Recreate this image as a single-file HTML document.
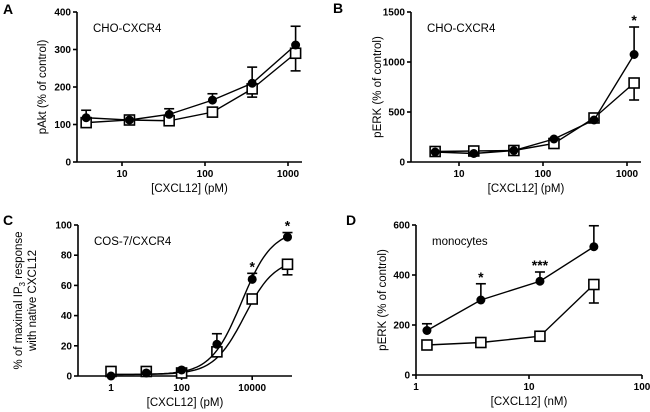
<!DOCTYPE html>
<html><head><meta charset="utf-8"><style>
body{margin:0;background:#fff}
svg{display:block;font-family:"Liberation Sans",Arial,sans-serif}
</style></head><body>
<svg id="fig" width="650" height="412" viewBox="0 0 650 412" xmlns="http://www.w3.org/2000/svg"></svg>
<script>
// Panel A
const aX=[3.7,12.3,37,123,370,1235];
const aFilled=[118,112,127,165,210,312];
const aFilledErr=[20,0,15,17,43,50];
const aOpen=[105,112,110,133,195,290];
const aOpenErr=[0,0,0,0,22,47];
// Panel B
const bX=[5.2,15,45,135,405,1215];
const bFilled=[100,85,115,230,420,1075];
const bFilledErr=[0,0,0,0,0,275];
const bOpen=[105,110,115,185,440,790];
const bOpenErr=[0,0,0,0,0,170];
// Panel C
const cX=[1,10,100,1000,10000,100000];
const cFilled=[0,2,4,21,64,92];
const cFilledErr=[0,0,0,7,4,3];
const cOpen=[3,3,2,16,51,74];
const cOpenErr=[0,0,0,0,0,7];
const cFitFilled=[1,97,5000,1]; // bottom, top, EC50, hill
const cFitOpen=[1,78,6000,1];
// Panel D
const dX=[1.25,3.75,12.5,37.5];
const dFilled=[178,300,375,513];
const dFilledErr=[27,65,37,84];
const dOpen=[120,130,155,362];
const dOpenErr=[0,0,0,74];

const svg=document.getElementById('fig');
const NS='http://www.w3.org/2000/svg';
function el(tag,attrs,parent){const e=document.createElementNS(NS,tag);for(const k in attrs)e.setAttribute(k,attrs[k]);(parent||svg).appendChild(e);return e;}

function panel(p){
  const g=el('g',{});
  
  
  const sx=v=>p.x0+(Math.log10(v)-p.lmin)*p.dec;
  const sy=v=>p.yb-(v/p.ymax)*(p.yb-p.yt);
  // axes
  const ya=el('line',{x1:p.x0,y1:p.yt,x2:p.x0,y2:p.yb,stroke:'#000','stroke-width':1.6},g);
  
  const xa=el('line',{x1:p.x0,y1:p.yb,x2:p.xe,y2:p.yb,stroke:'#000','stroke-width':1.6},g);
  
  p.yt_ticks.forEach(v=>{
    el('line',{x1:p.x0-4,y1:sy(v),x2:p.x0,y2:sy(v),stroke:'#000','stroke-width':1.6},g);
    const t=el('text',{x:p.x0-6,y:sy(v)+3.5,'text-anchor':'end','font-size':10,'font-weight':'bold'},g);
    t.textContent=v;
  });
  p.xt_ticks.forEach(v=>{
    const x=sx(v);
    el('line',{x1:x,y1:p.yb,x2:x,y2:p.yb+4,stroke:'#000','stroke-width':1.6},g);
    const t=el('text',{x:x,y:p.yb+15,'text-anchor':'middle','font-size':10,'font-weight':'bold'},g);
    t.textContent=v;
  });
  (p.minor||[]).forEach(v=>{el('line',{x1:sx(v),y1:p.yb,x2:sx(v),y2:p.yb+2,stroke:'#000','stroke-width':1},g);});
  const xt=el('text',{x:(p.x0+p.xe)/2,y:p.yb+30,'text-anchor':'middle','font-size':11.5},g);
  xt.textContent=p.xtitle;
  const cyy=(p.yt+p.yb)/2;
  p.ytitle.forEach((s,i)=>{
    const yx=p.ytx+i*14;
    const t=el('text',{x:yx,y:cyy,'text-anchor':'middle','font-size':11.5,transform:`rotate(-90 ${yx} ${cyy})`},g);
    t.innerHTML=s;
  });
  const lt=el('text',{x:p.lx,y:p.ly,'font-size':14,'font-weight':'bold'},g);
  lt.textContent=p.id;
  const an=el('text',{x:p.x0+16,y:p.yt+20,'font-size':11.5},g);
  an.textContent=p.label;
  // lines/curves
  function series(vals,errs,filled,fit){
    let d='';
    if(fit){
      const lo=Math.log10(p.xs[0]),hi=Math.log10(p.xs[p.xs.length-1]);
      for(let i=0;i<=80;i++){const lx=lo+(hi-lo)*i/80,x=Math.pow(10,lx);
        const v=fit[0]+(fit[1]-fit[0])/(1+Math.pow(fit[2]/x,fit[3]));
        d+=(i?'L':'M')+sx(x).toFixed(1)+','+sy(v).toFixed(1);}
    } else p.xs.forEach((x,i)=>{d+=(i?'L':'M')+sx(x)+','+sy(vals[i]);});
    const l=el('path',{d:d,fill:'none',stroke:'#000','stroke-width':1.4},g);
    
    
    p.xs.forEach((x,i)=>{
      const cx=sx(x),cy=sy(vals[i]);
      if(errs[i]>0){
        const ey=filled?sy(vals[i]+errs[i]):sy(vals[i]-errs[i]);
        el('line',{x1:cx,y1:cy,x2:cx,y2:ey,stroke:'#000','stroke-width':1.6},g);
        el('line',{x1:cx-5,y1:ey,x2:cx+5,y2:ey,stroke:'#000','stroke-width':1.6},g);
      }
      let m;
      if(filled) m=el('circle',{cx:cx,cy:cy,r:4.5,fill:'#000'},g);
      else m=el('rect',{x:cx-5,y:cy-5,width:10,height:10,fill:'#fff',stroke:'#000','stroke-width':1.6},g);
      
      
    });
  }
  series(p.open,p.openErr,false,p.fitO);
  series(p.filled,p.filledErr,true,p.fitF);
  (p.stars||[]).forEach(s=>{
    const i=s[0];const t=el('text',{x:sx(p.xs[i]),y:sy(p.filled[i]+p.filledErr[i])-2,'text-anchor':'middle','font-size':14,'font-weight':'bold'},g);
    t.textContent=s[1];
  });
}

panel({id:'A',x0:77,xe:302,yt:12,yb:162,lmin:Math.log10(10)-45/83,dec:83,ymax:400,
  yt_ticks:[0,100,200,300,400],xt_ticks:[10,100,1000],xs:aX,filled:aFilled,filledErr:aFilledErr,open:aOpen,openErr:aOpenErr,
  xtitle:'[CXCL12] (pM)',ytitle:['pAkt (% of control)'],ytx:46,lx:3,ly:14,label:'CHO-CXCR4'});
panel({id:'B',x0:411,xe:641,yt:12,yb:162,lmin:1-48/84,dec:84,ymax:1500,
  yt_ticks:[0,500,1000,1500],xt_ticks:[10,100,1000],xs:bX,filled:bFilled,filledErr:bFilledErr,open:bOpen,openErr:bOpenErr,
  xtitle:'[CXCL12] (pM)',ytitle:['pERK (% of control)'],ytx:381,lx:333,ly:13,label:'CHO-CXCR4',stars:[[5,'*']]});
panel({id:'C',x0:78,xe:292,yt:225,yb:376,lmin:-33/35.3,dec:35.3,ymax:100,
  yt_ticks:[0,20,40,60,80,100],xt_ticks:[1,100,10000],xs:cX,filled:cFilled,filledErr:cFilledErr,open:cOpen,openErr:cOpenErr,
  fitF:cFitFilled,fitO:cFitOpen,
  xtitle:'[CXCL12] (pM)',ytitle:['% of maximal IP<tspan font-size="8" dy="3">3</tspan><tspan dy="-3"> response</tspan>','with native CXCL12'],ytx:22,lx:3,ly:225,label:'COS-7/CXCR4',stars:[[4,'*'],[5,'*']]});
panel({id:'D',x0:416,xe:642,yt:225,yb:375,lmin:0,dec:113,ymax:600,
  yt_ticks:[0,200,400,600],xt_ticks:[1,10,100],xs:dX,filled:dFilled,filledErr:dFilledErr,open:dOpen,openErr:dOpenErr,
  xtitle:'[CXCL12] (nM)',ytitle:['pERK (% of control)'],ytx:386,lx:346,ly:225,label:'monocytes',stars:[[1,'*'],[2,'***']]});
</script>
</body></html>
